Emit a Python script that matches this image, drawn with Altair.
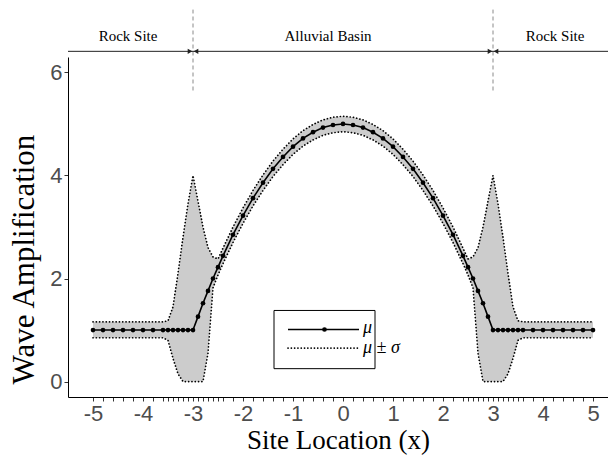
import altair as alt
import pandas as pd

# ---- data ----
site_x = [-5.0, -4.8, -4.6, -4.4, -4.2, -4.0, -3.8, -3.6,
          -3.5, -3.4, -3.3, -3.2, -3.1, -3.0, -2.9, -2.8, -2.7, -2.6, -2.5, -2.4,
          -2.2, -2.0, -1.8, -1.6, -1.4, -1.2, -1.0, -0.8, -0.6, -0.4, -0.2,
          0.0,
          0.2, 0.4, 0.6, 0.8, 1.0, 1.2, 1.4, 1.6, 1.8, 2.0, 2.2,
          2.4, 2.5, 2.6, 2.7, 2.8, 2.9, 3.0, 3.1, 3.2, 3.3, 3.4, 3.5,
          3.6, 3.8, 4.0, 4.2, 4.4, 4.6, 4.8, 5.0]

mu = [1.0, 1.0, 1.0, 1.0, 1.0, 1.0, 1.0, 1.0,
      1.0, 1.0, 1.0, 1.0, 1.0, 1.0, 1.26, 1.52, 1.76, 2.00, 2.22, 2.44,
      2.85, 3.22, 3.56, 3.86, 4.13, 4.36, 4.56, 4.72, 4.84, 4.93, 4.98,
      5.00,
      4.98, 4.93, 4.84, 4.72, 4.56, 4.36, 4.13, 3.86, 3.56, 3.22, 2.85,
      2.44, 2.22, 2.00, 1.76, 1.52, 1.26, 1.0, 1.0, 1.0, 1.0, 1.0, 1.0,
      1.0, 1.0, 1.0, 1.0, 1.0, 1.0, 1.0, 1.0]

mu_plus = [1.16, 1.16, 1.16, 1.16, 1.16, 1.16, 1.16, 1.16,
           1.18, 1.45, 2.10, 2.80, 3.45, 4.00, 3.50, 3.00, 2.60, 2.42, 2.38, 2.59,
           3.00, 3.37, 3.71, 4.01, 4.28, 4.51, 4.71, 4.87, 4.99, 5.08, 5.13,
           5.15,
           5.13, 5.08, 4.99, 4.87, 4.71, 4.51, 4.28, 4.01, 3.71, 3.37, 3.00,
           2.59, 2.38, 2.42, 2.60, 3.00, 3.50, 4.00, 3.45, 2.80, 2.10, 1.45, 1.18,
           1.16, 1.16, 1.16, 1.16, 1.16, 1.16, 1.16, 1.16]

mu_minus = [0.85, 0.85, 0.85, 0.85, 0.85, 0.85, 0.85, 0.85,
            0.80, 0.45, 0.15, 0.0, 0.0, 0.0, 0.0, 0.0, 0.55, 1.82, 2.07, 2.29,
            2.70, 3.07, 3.41, 3.71, 3.98, 4.21, 4.41, 4.57, 4.69, 4.78, 4.83,
            4.85,
            4.83, 4.78, 4.69, 4.57, 4.41, 4.21, 3.98, 3.71, 3.41, 3.07, 2.70,
            2.29, 2.07, 1.82, 0.55, 0.0, 0.0, 0.0, 0.0, 0.0, 0.15, 0.45, 0.80,
            0.85, 0.85, 0.85, 0.85, 0.85, 0.85, 0.85, 0.85]

y_ticks = [0, 2, 4, 6]

region_labels = ["Rock Site", "Alluvial Basin", "Rock Site"]
region_label_x = [-4.3, -0.3, 4.24]
region_start = [-5.5, -3.0, 3.0]
region_end = [-3.0, 3.0, 5.3]
boundaries = [-3.0, 3.0]

legend_labels = ["μ", "μ ± σ"]

# ---- tables ----
df = pd.DataFrame({"x": site_x, "mu": mu, "hi": mu_plus, "lo": mu_minus})
regions = pd.DataFrame({"label": region_labels, "lx": region_label_x,
                        "x0": region_start, "x1": region_end})
bounds = pd.DataFrame({"x": boundaries})
one = pd.DataFrame({"a": [0]})

XDOM = [-5.5, 5.3]
YDOM = [-0.3, 6.3]
xs = alt.Scale(domain=XDOM, nice=False, zero=False)
ys = alt.Scale(domain=YDOM, nice=False, zero=False)

SERIF = "Liberation Serif"
SANS = "Liberation Sans"

XAXIS = alt.Axis(values=site_x,
                 labelExpr="abs(datum.value - round(datum.value)) < 0.01 ? toString(round(datum.value)) : ''",
                 labelOverlap=False, labelFlush=False, grid=False,
                 title="Site Location (x)", titleFontSize=27,
                 titleY=51, titleBaseline="alphabetic", titleAnchor="middle")
YAXIS = alt.Axis(values=y_ticks, format="d", grid=False,
                 title="Wave Amplification", titleFontSize=31,
                 titleX=-35, titleY=202, titleAngle=270,
                 titleBaseline="alphabetic", titleAlign="center")


def fx(field):
    return alt.X(field, type="quantitative", scale=xs, axis=XAXIS, title="Site Location (x)")


def fy(field):
    return alt.Y(field, type="quantitative", scale=ys, axis=YAXIS, title="Wave Amplification")


def dx(v):
    return alt.XDatum(v, type="quantitative", scale=xs, axis=XAXIS, title="Site Location (x)")


def dy(v):
    return alt.YDatum(v, type="quantitative", scale=ys, axis=YAXIS, title="Wave Amplification")


band = alt.Chart(df).mark_area(color="#cccccc", opacity=1).encode(
    x=fx("x"), y=fy("lo"), y2="hi:Q")

dot_style = dict(color="black", strokeWidth=1.7, strokeDash=[0.1, 3.2], strokeCap="round")
upper = alt.Chart(df).mark_line(**dot_style).encode(x=fx("x"), y=fy("hi"))
lower = alt.Chart(df).mark_line(**dot_style).encode(x=fx("x"), y=fy("lo"))

mean_line = alt.Chart(df).mark_line(color="black", strokeWidth=1.6).encode(x=fx("x"), y=fy("mu"))
mean_pts = alt.Chart(df).mark_point(filled=True, color="black", size=22, opacity=1).encode(
    x=fx("x"), y=fy("mu"))

# ---- top annotations ----
ARROW_Y = 6.41
LABEL_Y = 6.70
vlines = alt.Chart(bounds).mark_rule(color="#8a8a8a", strokeWidth=1, strokeDash=[4, 3]).encode(
    x=fx("x"), y=dy(5.65), y2=alt.datum(7.22))
arrows = alt.Chart(regions).mark_rule(color="#222222", strokeWidth=1).encode(
    x=fx("x0"), x2="x1:Q", y=dy(ARROW_Y))
labels = alt.Chart(regions).mark_text(font=SERIF, fontSize=15, color="black", baseline="middle").encode(
    x=fx("lx"), y=dy(LABEL_Y), text="label:N")
head_r = alt.Chart(bounds).mark_point(shape="triangle-right", filled=True, color="#222222",
                                      size=28, opacity=1, xOffset=-3).encode(
    x=fx("x"), y=dy(ARROW_Y))
head_l = alt.Chart(bounds).mark_point(shape="triangle-left", filled=True, color="#222222",
                                      size=28, opacity=1, xOffset=3).encode(
    x=fx("x"), y=dy(ARROW_Y))

# ---- hand-drawn legend ----
leg_box = alt.Chart(one).mark_rect(fill="white", stroke="black", strokeWidth=1).encode(
    x=dx(-1.38), x2=alt.datum(0.64), y=dy(0.25), y2=alt.datum(1.38))
leg_solid = alt.Chart(one).mark_rule(color="black", strokeWidth=1.6).encode(
    x=dx(-1.10), x2=alt.datum(0.32), y=dy(1.01))
leg_pt = alt.Chart(one).mark_point(filled=True, color="black", size=22, opacity=1).encode(
    x=dx(-0.37), y=dy(1.01))
leg_dot = alt.Chart(one).mark_rule(**dot_style).encode(
    x=dx(-1.10), x2=alt.datum(0.32), y=dy(0.65))
leg_txt = alt.Chart(pd.DataFrame({"t": legend_labels, "ly": [1.03, 0.65]})).mark_text(
    font=SERIF, fontStyle="italic", fontSize=18, align="left", baseline="middle", color="black").encode(
    x=dx(0.40), y=fy("ly"), text="t:N")

chart = alt.layer(
    band, upper, lower, mean_line, mean_pts,
    vlines, arrows, head_r, head_l, labels,
    leg_box, leg_solid, leg_pt, leg_dot, leg_txt
).properties(
    width=540, height=340,
    autosize=alt.AutoSizeParams(type="none"),
    padding={"left": 68, "top": 57, "right": 0, "bottom": 71},
    background="white",
).configure_view(stroke=None).configure_axis(
    domainColor="black", domainWidth=1, tickColor="#333333", tickSize=4, tickWidth=1,
    labelFont=SANS, labelFontSize=22, labelColor="#4d4d4d", labelPadding=2,
    titleFont=SERIF, titleFontSize=28, titleFontWeight="normal", titleColor="black",
)

chart.save("out.html", embed_options={"renderer": "svg", "actions": False})
